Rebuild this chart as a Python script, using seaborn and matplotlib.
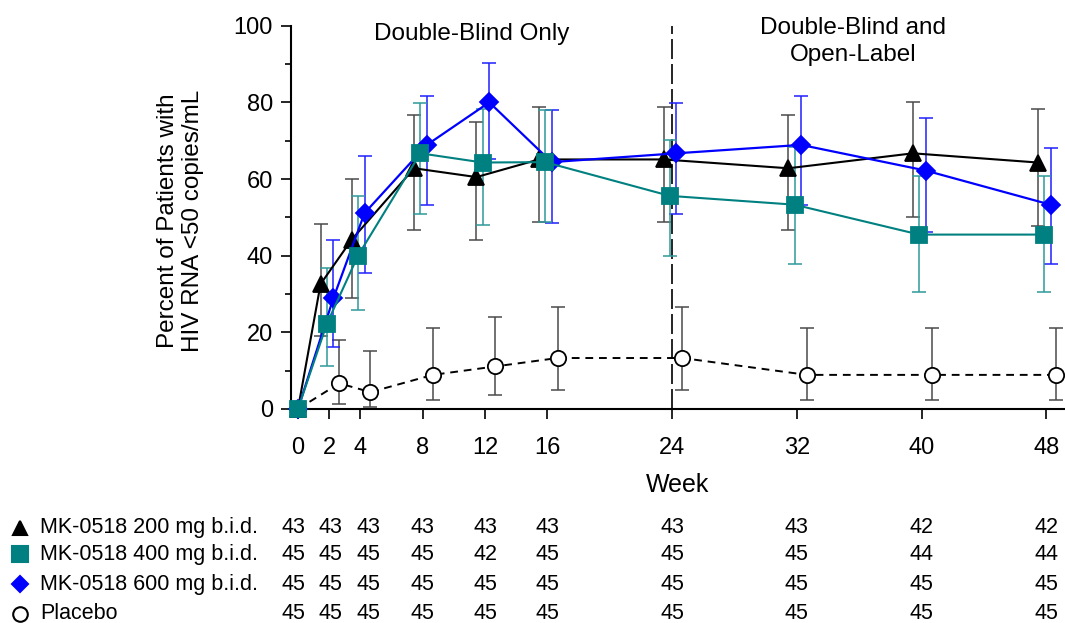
import matplotlib
matplotlib.use("Agg")
import matplotlib.pyplot as plt
import matplotlib.transforms as mtransforms
from matplotlib.lines import Line2D
import numpy as np
import seaborn as sns

# Data
weeks = [0, 2, 4, 8, 12, 16, 24, 32, 40, 48]

pct_200 = [0, 32.6, 44.2, 62.8, 60.5, 65.1, 65.1, 62.8, 66.7, 64.3]
lo_200 = [np.nan, 19.0, 29.0, 46.6, 44.2, 48.9, 48.9, 46.6, 50.2, 47.8]
hi_200 = [np.nan, 48.3, 59.9, 76.8, 74.8, 78.8, 78.7, 76.8, 80.2, 78.2]

pct_400 = [0, 22.2, 40.0, 66.7, 64.3, 64.4, 55.6, 53.3, 45.5, 45.5]
lo_400 = [np.nan, 11.1, 25.7, 50.9, 47.9, 48.7, 39.9, 37.8, 30.4, 30.4]
hi_400 = [np.nan, 36.8, 55.5, 79.8, 78.3, 78.0, 70.2, 68.3, 60.9, 60.9]

pct_600 = [0, 28.9, 51.1, 68.9, 80.0, 64.4, 66.7, 68.9, 62.2, 53.3]
lo_600 = [np.nan, 16.3, 35.6, 53.2, 65.3, 48.6, 50.9, 53.2, 46.3, 37.8]
hi_600 = [np.nan, 44.1, 66.0, 81.6, 90.3, 77.9, 79.8, 81.6, 76.0, 68.0]

pct_pbo = [0, 6.7, 4.4, 8.9, 11.1, 13.3, 13.3, 8.9, 8.9, 8.9]
lo_pbo = [np.nan, 1.4, 0.5, 2.4, 3.7, 5.0, 5.0, 2.4, 2.4, 2.4]
hi_pbo = [np.nan, 18.1, 15.0, 21.1, 24.0, 26.6, 26.6, 21.1, 21.1, 21.1]

# number of patients per week
n_200 = [43, 43, 43, 43, 43, 43, 43, 43, 42, 42]
n_400 = [45, 45, 45, 45, 42, 45, 45, 45, 44, 44]
n_600 = [45, 45, 45, 45, 45, 45, 45, 45, 45, 45]
n_pbo = [45, 45, 45, 45, 45, 45, 45, 45, 45, 45]

labels = ["MK-0518 200 mg b.i.d.", "MK-0518 400 mg b.i.d.",
          "MK-0518 600 mg b.i.d.", "Placebo"]

# drawing order: placebo, 200, 600, 400 (square ends on top)
series = [
    dict(label=labels[3], pct=pct_pbo, lo=lo_pbo, hi=hi_pbo, color="black",
         ecolor="#4a4a4a", marker="o", ms=11, mfc="white", ls=(0, (4, 3)),
         lw=1.4, shift=0.65, z=3),
    dict(label=labels[0], pct=pct_200, lo=lo_200, hi=hi_200, color="black",
         ecolor="#4a4a4a", marker="^", ms=12, mfc="black", ls="-",
         lw=1.5, shift=-0.55, z=4),
    dict(label=labels[2], pct=pct_600, lo=lo_600, hi=hi_600, color="#0000ff",
         ecolor="#2020ff", marker="D", ms=9.5, mfc="#0000ff", ls="-",
         lw=1.6, shift=0.27, z=5),
    dict(label=labels[1], pct=pct_400, lo=lo_400, hi=hi_400, color="#008080",
         ecolor="#2f9a9a", marker="s", ms=12, mfc="#008080", ls="-",
         lw=1.5, shift=-0.15, z=6),
]

sns.set_theme(style="ticks")
plt.rcParams["font.family"] = ["Liberation Sans", "DejaVu Sans"]
plt.rcParams["text.color"] = "black"

fig = plt.figure(figsize=(10.65, 6.23), dpi=100)
ax = fig.add_axes([0.2732, 0.3435, 0.7268, 0.6153])

for s in series:
    x = np.array(weeks, dtype=float)
    x[1:] += s["shift"]
    pct = np.array(s["pct"])
    lo = np.array(s["lo"])
    hi = np.array(s["hi"])
    ax.errorbar(x[1:], pct[1:], yerr=[pct[1:] - lo[1:], hi[1:] - pct[1:]],
                fmt="none", ecolor=s["ecolor"], elinewidth=1.1, capsize=5,
                capthick=1.1, zorder=2, clip_on=False)
    sns.lineplot(x=x, y=pct, ax=ax, color=s["color"], marker=s["marker"],
                 markersize=s["ms"], markerfacecolor=s["mfc"],
                 markeredgecolor=s["color"], markeredgewidth=1.3,
                 linestyle=s["ls"], linewidth=s["lw"], errorbar=None,
                 zorder=s["z"], clip_on=False, legend=False)

# study phase divider
ax.axvline(24, color="black", lw=1.2, ls=(0, (12, 3)), zorder=1)
ax.text(11.15, 97.7, "Double-Blind Only", ha="center", va="center",
        fontsize=17.5, color="black")
ax.text(35.6, 95.9, "Double-Blind and\nOpen-Label", ha="center", va="center",
        fontsize=17.5, linespacing=1.3, color="black")

ax.set_xlim(-0.45, 49.2)
ax.set_ylim(0, 100)
ax.set_xticks(weeks)
ax.set_yticks(range(0, 101, 20))
ax.set_yticks(range(10, 100, 20), minor=True)
ax.tick_params(axis="both", which="major", length=7, width=1.2, color="black",
               labelsize=17, labelcolor="black")
ax.tick_params(axis="x", pad=13)
ax.tick_params(axis="y", pad=6)
ax.tick_params(axis="y", which="minor", length=4.3, width=1.2, color="black")
sns.despine(ax=ax)
for sp in ["left", "bottom"]:
    ax.spines[sp].set_color("black")
    ax.spines[sp].set_linewidth(1.5)

ax.set_xlabel("Week", fontsize=18, color="black", va="center")
ax.xaxis.set_label_coords(0.5, -0.198)
ax.set_ylabel("Percent of Patients with\nHIV RNA <50 copies/mL", fontsize=17.5,
              color="black", ha="center", va="center", linespacing=1.2)
ax.yaxis.set_label_coords(-0.143, 0.49)

# patients-at-risk table under the chart
trans = mtransforms.blended_transform_factory(ax.transData, fig.transFigure)
table_x = [-0.3, 2.1, 4.5, 8, 12, 16, 24, 32, 40, 48]
row_y = [0.153, 0.110, 0.062, 0.015]
rows = [
    (labels[0], n_200, dict(marker="^", mfc="black", mec="black", ms=9.5)),
    (labels[1], n_400, dict(marker="s", mfc="#008080", mec="#008080", ms=11)),
    (labels[2], n_600, dict(marker="D", mfc="#0000ff", mec="#0000ff", ms=8)),
    (labels[3], n_pbo, dict(marker="o", mfc="white", mec="black", ms=10.5)),
]
for (lab, counts, mk), yy in zip(rows, row_y):
    fig.add_artist(Line2D([20 / 1065], [yy], transform=fig.transFigure,
                          linestyle="none", markeredgewidth=1.5, **mk))
    fig.text(40 / 1065, yy, lab, ha="left", va="center", fontsize=15.5,
             color="black")
    for xx, c in zip(table_x, counts):
        ax.text(xx, yy, str(c), transform=trans, ha="center", va="center",
                fontsize=15.5, color="black", clip_on=False)

fig.savefig("out.png", dpi=100)
